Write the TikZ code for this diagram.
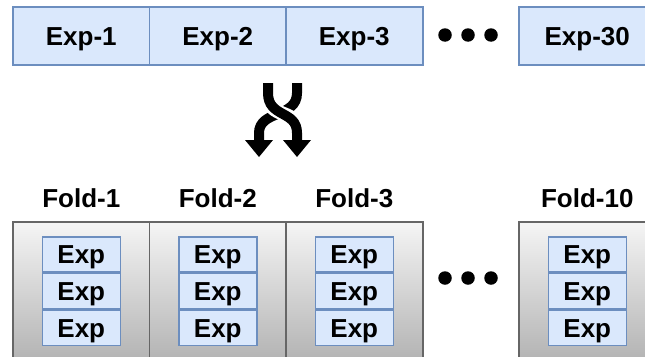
\documentclass[tikz,border=0pt]{standalone}
\usepackage{fontspec}
\setmainfont{Liberation Sans}
\definecolor{blueFill}{HTML}{DAE8FC}
\definecolor{blueLine}{HTML}{6C8EBF}
\definecolor{grayTop}{HTML}{F5F5F5}
\definecolor{grayBot}{HTML}{B3B3B3}
\definecolor{grayLine}{HTML}{666666}
\begin{document}
\begin{tikzpicture}[x=1pt,y=-1pt,
  lbl/.style={font=\fontsize{26}{30}\selectfont\bfseries, text height=18.6pt, text depth=0pt},
  expbox/.style={draw=blueLine, fill=blueFill, line width=1.5pt, minimum width=137pt,
    minimum height=58pt, inner sep=0pt, lbl, anchor=north west},
  foldbox/.style={draw=grayLine, top color=grayTop, bottom color=grayBot, line width=1.5pt,
    minimum width=137pt, minimum height=139pt, inner sep=0pt, anchor=north west},
  cellbox/.style={draw=blueLine, fill=blueFill, line width=1.5pt, minimum width=78pt,
    minimum height=35.3pt, inner sep=0pt, lbl, anchor=north},
  foldlbl/.style={lbl, inner sep=0pt},
  dot/.style={circle, fill=black, minimum size=13.5pt, inner sep=0pt},
  strand/.style={line width=10pt, line cap=butt}
]
\useasboundingbox (0,0) rectangle (645,356);
\clip (0,0) rectangle (645,356);

% top row of experiments
\node[expbox] (e1)  at (12,6)  {Exp-1};
\node[expbox] (e2)  at (148.5,6) {Exp-2};
\node[expbox] (e3)  at (285,6) {Exp-3};
\node[expbox] (e30) at (518,6) {Exp-30};
\node[dot] (t1) at (445,35) {};
\node[dot] (t2) at (468,35) {};
\node[dot] (t3) at (491,35) {};

% shuffle symbol
\draw[strand] (297,83) -- (297,93) .. controls (297,118) and (259,110) .. (259,133) -- (259,141);
\draw[line width=14pt, white] (268,96) .. controls (268,118) and (297,110) .. (297,128);
\draw[strand] (268,83) -- (268,93) .. controls (268,118) and (297,110) .. (297,133) -- (297,141);
\fill (245,140) -- (273,140) -- (259,157) -- cycle;
\fill (283,140) -- (311,140) -- (297,157) -- cycle;

% folds
\foreach \n/\x/\t in {1/12/Fold-1, 2/148.5/Fold-2, 3/285/Fold-3, 10/518/Fold-10} {
  \node[foldbox] (f\n) at (\x,221) {};
  \node[foldlbl] (l\n) at ([yshift=22.5pt]f\n.north) {\t};
  \node[cellbox] (c\n a) at ([yshift=-15pt]f\n.north) {Exp};
  \node[cellbox] (c\n b) at (c\n a.south) {Exp};
  \node[cellbox] (c\n c) at (c\n b.south) {Exp};
}
\node[dot] (b1) at (445,278) {};
\node[dot] (b2) at (468,278) {};
\node[dot] (b3) at (491,278) {};
\end{tikzpicture}
\end{document}
